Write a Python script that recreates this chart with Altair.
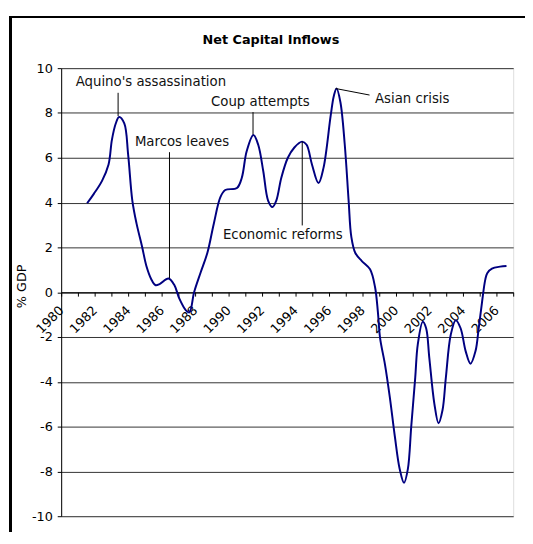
import altair as alt
import pandas as pd

# Net capital inflows, % of GDP
years = [1981.55, 1981.95, 1982.44, 1982.83, 1983.03, 1983.26, 1983.46, 1983.77,
         1984.00, 1984.25, 1984.50, 1984.83, 1985.09, 1985.38, 1985.62, 1985.88,
         1986.41, 1986.76, 1987.06, 1987.45, 1987.66, 1987.94, 1988.33, 1988.73,
         1989.12, 1989.51, 1989.80, 1990.50, 1990.79, 1991.08, 1991.48, 1991.77,
         1992.07, 1992.36, 1992.62, 1992.85, 1993.15, 1993.54, 1993.93, 1994.39,
         1994.66, 1994.98, 1995.37, 1995.67, 1996.10, 1996.29, 1996.45, 1996.68,
         1996.94, 1997.17, 1997.33, 1997.57, 1997.96, 1998.45, 1998.75, 1998.92,
         1999.05, 1999.34, 1999.63, 1999.93, 2000.22, 2000.48, 2000.71, 2000.91,
         2001.15, 2001.30, 2001.60, 2001.80, 2001.99, 2002.29, 2002.54, 2002.78,
         2002.98, 2003.27, 2003.57, 2003.86, 2004.16, 2004.45, 2004.75, 2004.94,
         2005.14, 2005.33, 2005.45, 2005.73, 2006.22, 2006.60]
values = [3.97, 4.39, 4.97, 5.70, 6.80, 7.53, 7.82, 7.53,
          6.14, 4.09, 3.07, 2.04, 1.17, 0.58, 0.32, 0.36,
          0.61, 0.32, -0.29, -0.81, -0.90, 0.00, 0.88, 1.75,
          3.07, 4.24, 4.56, 4.65, 5.11, 6.29, 7.02, 6.58,
          5.41, 4.09, 3.80, 4.09, 5.11, 6.00, 6.46, 6.72,
          6.58, 5.70, 4.87, 5.55, 7.89, 8.77, 9.09, 8.48,
          6.58, 4.09, 2.48, 1.75, 1.39, 1.02, 0.22, -0.90,
          -2.05, -3.22, -4.68, -6.43, -7.89, -8.51, -7.89, -6.00,
          -3.80, -2.34, -1.32, -1.61, -2.93, -4.97, -5.85, -5.26,
          -3.80, -1.90, -1.25, -1.61, -2.63, -3.19, -2.63, -1.61,
          -0.44, 0.55, 0.85, 1.05, 1.14, 1.17]

# Annotations
ann_text = ["Aquino's assassination", "Marcos leaves", "Coup attempts",
            "Asian crisis", "Economic reforms"]
ann_x = [1985.36, 1987.22, 1991.90, 2000.97, 1993.24]
ann_y = [9.38, 6.70, 8.48, 8.63, 2.53]
lead_x = [1983.40, 1986.47, 1991.46, 1996.40, 1994.40]
lead_y = [8.90, 6.25, 8.04, 9.09, 6.72]
lead_x2 = [1983.40, 1986.47, 1991.46, 1998.42, 1994.40]
lead_y2 = [7.86, 0.62, 7.04, 8.80, 2.98]

chart_title = ["Net Capital Inflows"]

tick_years = list(range(1980, 2008))
y_ticks = list(range(-10, 11, 2))

W, H = 459, 455
FONT = "DejaVu Sans"

series = pd.DataFrame({"year": years, "value": values})
ann = pd.DataFrame({"year": ann_x, "value": ann_y, "label": ann_text})
leads = pd.DataFrame({"year": lead_x, "value": lead_y,
                      "year2": lead_x2, "value2": lead_y2})
titles = pd.DataFrame({"label": chart_title})

xscale = alt.Scale(domain=[1980, 2007], nice=False, zero=False)
yscale = alt.Scale(domain=[-10, 10], nice=False)

xaxis = alt.Axis(values=tick_years, title=None, grid=False,
                 labelExpr="datum.value % 2 == 0 ? '' + datum.value : ''",
                 labelAngle=-45, labelAlign="right", labelBaseline="middle",
                 labelPadding=12, labelFont=FONT, labelFontSize=13,
                 labelColor="black", labelOverlap=False, labelBound=False,
                 labelFlush=False,
                 tickSize=4, tickColor="black", domainColor="black",
                 offset=-H / 2)
yaxis = alt.Axis(values=y_ticks, title="% GDP", grid=True,
                 gridColor="#333333", gridWidth=1,
                 labelExpr="'' + datum.value",
                 labelFont=FONT, labelFontSize=13, labelColor="black",
                 labelPadding=5, tickSize=4, tickColor="black",
                 domainColor="black", labelOverlap=False,
                 titleFont=FONT, titleFontSize=13, titleFontWeight="normal",
                 titleColor="black", titleAngle=-90, titleX=-40, titleY=221,
                 titleAlign="center", titleBaseline="middle")

X = alt.X("year:Q", scale=xscale, axis=xaxis)
Y = alt.Y("value:Q", scale=yscale, axis=yaxis)

line = alt.Chart(series).mark_line(
    color="#000080", strokeWidth=2, interpolate="catmull-rom"
).encode(x=X, y=Y)

leaders = alt.Chart(leads).mark_rule(color="black", strokeWidth=1).encode(
    x=X, y=Y, x2="year2:Q", y2="value2:Q",
)

labels = alt.Chart(ann).mark_text(
    font=FONT, fontSize=13.5, color="#111111", align="center", baseline="middle"
).encode(x=X, y=Y, text="label:N")

title_text = alt.Chart(titles).mark_text(
    font=FONT, fontSize=13, fontWeight="bold", color="black",
    align="center", baseline="middle"
).encode(
    x=alt.value(213), y=alt.value(-29), text="label:N"
)

frame_left = alt.Chart(series).mark_rule(color="black", strokeWidth=2).encode(
    x=alt.value(-51), y=alt.value(-52), y2=alt.value(H + 16)
)
frame_top = alt.Chart(series).mark_rule(color="black", strokeWidth=2).encode(
    x=alt.value(-52), x2=alt.value(W + 12), y=alt.value(-52)
)

chart = alt.layer(line, leaders, labels, title_text, frame_left, frame_top).properties(
    width=W,
    height=H,
    autosize=alt.AutoSizeParams(type="none"),
    padding={"left": 54, "top": 57, "right": 12, "bottom": 16},
).configure_view(
    stroke="#999999", strokeWidth=1
).configure(background="white")

chart.save("out.html", embed_options={"renderer": "svg", "actions": False})
